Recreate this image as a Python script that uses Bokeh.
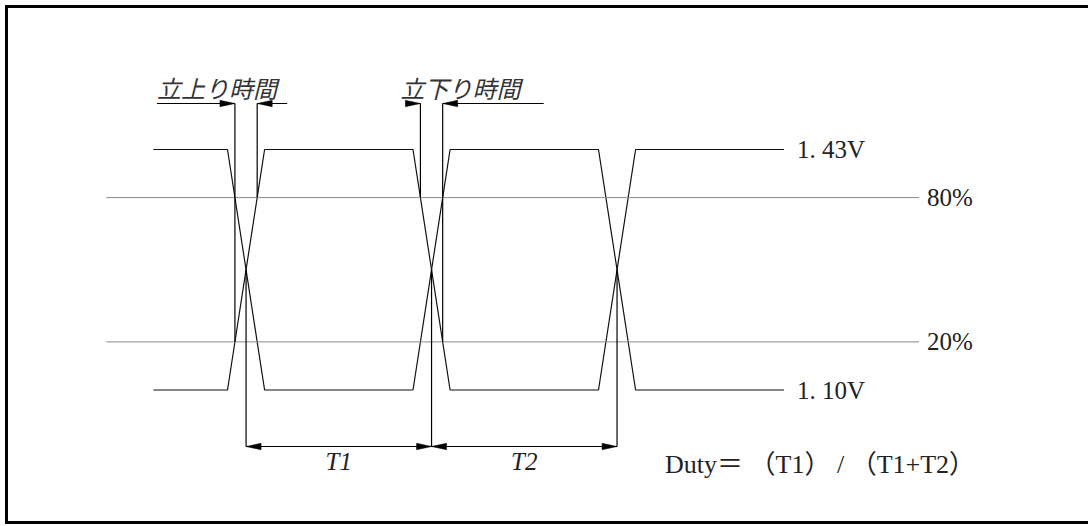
import numpy as np
from bokeh.plotting import figure
from bokeh.models import Range1d, Label
from bokeh.embed import file_html
from bokeh.resources import INLINE

# ---------------- data ----------------
edge_times = [0.0, 5.0, 10.0]        # start of each transition (time units)
edge_duration = 1.0                   # 0%..100% transition time
t_begin = -2.0
t_finish = 15.0
v_high = 1.43
v_low = 1.10
threshold_fracs = [0.8, 0.2]
threshold_labels = ["80%", "20%"]
level_labels = ["1. 43V", "1. 10V"]
period_labels = ["T1", "T2"]
rise_label = "立上り時間"
fall_label = "立下り時間"
duty_label = "Duty＝ （T1） / （T1+T2）"

# ---------------- layout ----------------
W, H = 1088, 526
PX_T = 37.1      # pixels per time unit
PX_V = 728.8     # pixels per volt
X0 = 227         # canvas x of t = 0
Y_HI = 149       # canvas y of v_high

def dt(px):
    return px / PX_T

def dv(px):
    return px / PX_V

x_range = Range1d(-dt(X0), dt(W - X0))
y_range = Range1d(v_high - dv(H - Y_HI), v_high + dv(Y_HI))

p = figure(width=W, height=H, x_range=x_range, y_range=y_range,
           output_backend="svg", toolbar_location=None,
           x_axis_location=None, y_axis_location=None, min_border=0)
p.grid.visible = False
p.outline_line_color = None
p.background_fill_color = "white"
p.border_fill_color = "white"

# frame (left, top and bottom edges; right edge lies outside the picture)
fl, fr = x_range.start + dt(6), x_range.end + 5
ft, fb = y_range.end - dv(6), y_range.end - dv(522)
p.line([fr, fl, fl, fr], [ft, ft, fb, fb], line_color="black", line_width=3,
       line_join="miter")

# ---------------- waveforms ----------------
def waveform(start_high):
    xs, ys = [t_begin], []
    level = start_high
    lv = lambda s: v_high if s else v_low
    ys.append(lv(level))
    for e in edge_times:
        xs += [e, e + edge_duration]
        ys += [lv(level), lv(not level)]
        level = not level
    xs.append(t_finish)
    ys.append(lv(level))
    return xs, ys

xa, ya = waveform(True)
xb, yb = waveform(False)
p.line(xa, ya, line_color="#111", line_width=1.2)
p.line(xb, yb, line_color="#111", line_width=1.2)

# threshold lines
thr_v = [v_low + f * (v_high - v_low) for f in threshold_fracs]
ref_left = t_begin - dt(47)
ref_right = t_finish + dt(135)
p.segment(x0=[ref_left] * 2, x1=[ref_right] * 2, y0=thr_v, y1=thr_v,
          line_color="#8a8a8a", line_width=1)

SERIF = "'Liberation Serif', 'Noto Sans CJK JP'"
for lab, v in zip(threshold_labels, thr_v):
    p.add_layout(Label(x=ref_right, y=v, x_offset=8, text=lab, text_font=SERIF,
                       text_font_size="25px", text_baseline="middle",
                       text_color="#222"))
for lab, v in zip(level_labels, [v_high, v_low]):
    p.add_layout(Label(x=t_finish, y=v, x_offset=13, text=lab, text_font=SERIF,
                       text_font_size="25px", text_baseline="middle",
                       text_color="#222"))

# ---------------- measurements ----------------
y_mid = (v_high + v_low) / 2
arrow_top = v_high + dv(46)
arrow_bot = v_low - dv(56.5)
HEAD_L = dt(15)
HEAD_W = dv(3.2)

heads_x, heads_y = [], []

def head(x_tip, y, direction):
    # direction +1: points to the right, -1: to the left
    heads_x.append([x_tip, x_tip - direction * HEAD_L, x_tip - direction * HEAD_L])
    heads_y.append([y, y + HEAD_W, y - HEAD_W])

# crossing verticals and period arrows
mids = [e + edge_duration / 2 for e in edge_times]
p.segment(x0=mids, x1=mids, y0=[y_mid] * 3, y1=[arrow_bot] * 3,
          line_color="black", line_width=1.2)
p.segment(x0=mids[:-1], x1=mids[1:], y0=[arrow_bot] * 2, y1=[arrow_bot] * 2,
          line_color="black", line_width=1.2)
for a, b in zip(mids[:-1], mids[1:]):
    head(a, arrow_bot, -1)
    head(b, arrow_bot, +1)
for lab, a, b in zip(period_labels, mids[:-1], mids[1:]):
    p.add_layout(Label(x=(a + b) / 2, y=arrow_bot, y_offset=-15, text=lab,
                       text_font="Liberation Serif", text_font_style="italic",
                       text_font_size="25px", text_align="center",
                       text_baseline="middle", text_color="#222"))

# rise time (signal B rising at first edge) and fall time (B falling at second edge)
e_r, e_f = edge_times[0], edge_times[1]
f_hi, f_lo = threshold_fracs
rise_pts = [(e_r + f_lo * edge_duration, thr_v[1]), (e_r + f_hi * edge_duration, thr_v[0])]
fall_pts = [(e_f + (1 - f_hi) * edge_duration, thr_v[0]), (e_f + (1 - f_lo) * edge_duration, thr_v[1])]
for pts in (rise_pts, fall_pts):
    xs = [q[0] for q in pts]
    p.segment(x0=xs, x1=xs, y0=[q[1] for q in pts], y1=[arrow_top] * 2,
              line_color="black", line_width=1.2)

def dim_arrows(pts, ext_left, ext_right):
    l, r = pts[0][0], pts[1][0]
    p.segment(x0=[l - dt(ext_left), r], x1=[l, r + dt(ext_right)],
              y0=[arrow_top] * 2, y1=[arrow_top] * 2, line_color="black", line_width=1.2)
    head(l, arrow_top, +1)
    head(r, arrow_top, -1)
    return l

l_r = dim_arrows(rise_pts, 78, 30)
l_f = dim_arrows(fall_pts, 15, 101)
p.add_layout(Label(x=l_r, y=arrow_top, x_offset=-78, y_offset=16, text=rise_label,
                   text_font="Noto Sans CJK JP", text_font_style="italic",
                   text_font_size="24px", text_baseline="middle", text_color="#333"))
p.add_layout(Label(x=l_f, y=arrow_top, x_offset=-20, y_offset=16, text=fall_label,
                   text_font="Noto Sans CJK JP", text_font_style="italic",
                   text_font_size="24px", text_baseline="middle", text_color="#333"))

p.patches(heads_x, heads_y, fill_color="black", line_color="black", line_width=0.5)

# duty formula
p.add_layout(Label(x=mids[-1], y=arrow_bot, x_offset=48, y_offset=-18, text=duty_label,
                   text_font=SERIF, text_font_size="26px", text_baseline="middle",
                   text_color="#222"))

open("out.html", "w").write(file_html(p, INLINE))
